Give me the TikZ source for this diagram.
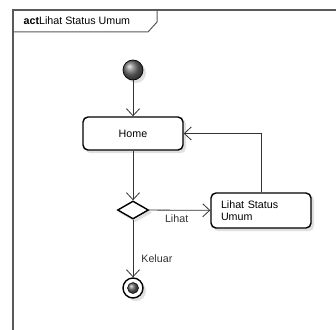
\documentclass[tikz,border=0pt]{standalone}
\usepackage{fontspec}
\setmainfont{Liberation Sans}
\usetikzlibrary{arrows.meta,shapes.geometric,calc}
\tikzset{
  frameline/.style={draw=black!65, line width=1.4pt},
  shadowed/.style={preaction={fill=black!12, draw=black!12, transform canvas={shift={(2.5pt,-2.5pt)}}}},
  actbox/.style={draw=black, line width=1.4pt, rounded corners=5pt, fill=white, shadowed,
    inner sep=0pt, font=\fontsize{10.7}{12}\selectfont},
  flow/.style={draw=black!80, line width=0.8pt, -{Straight Barb[length=7pt,width=13pt,line width=0.8pt]}},
  lbl/.style={font=\fontsize{10.7}{12}\selectfont, text=black!80, inner sep=0pt}
}
\begin{document}
\begin{tikzpicture}[x=1pt,y=-1pt]
\useasboundingbox (0,0) rectangle (336,329);
% diagram frame and its name tab
\draw[frameline] (13,340) -- (13,10) -- (345,10);
\draw[frameline, line width=1pt] (13,32) -- (148,32) -- (157,22) -- (157,10);
\node[anchor=west, inner sep=0pt, font=\fontsize{10.7}{12}\selectfont] (title) at (23.5,21)
  {\textbf{act}Lihat Status Umum};

% initial node
\fill[black!12] (136,73) circle (10);
\node[circle, minimum size=20pt, inner sep=0pt, draw=black, line width=0.7pt,
  ball color=black!55] (init) at (133,70) {};

% actions
\node[actbox, minimum width=100pt, minimum height=33pt] (home) at (133,133.5) {Home};
\node[actbox, minimum width=100pt, minimum height=35pt, align=left, text width=80pt]
  (lihat) at (261,210.5) {Lihat Status\\Umum};

% decision
\node[diamond, draw=black, line width=1.4pt, fill=white, shadowed, inner sep=0pt,
  minimum width=31pt, minimum height=18pt] (dec) at (133,210) {};

% final node
\fill[black!12] (136,291) circle (10);
\node[circle, minimum size=20pt, inner sep=0pt, draw=black, line width=1.4pt, fill=white]
  (final) at (133,288) {};
\shade[ball color=black!60] (133,288) circle (5.5);
\draw[black, line width=0.5pt] (133,288) circle (5.5);

% transitions
\draw[flow] (init) -- (home);
\draw[flow] (home) -- (dec);
\draw[flow] (dec) -- node[lbl, pos=0.45, below=4pt] {Lihat} (lihat);
\draw[flow] (lihat.north) |- (home.east);
\draw[flow] (dec) -- node[lbl, pos=0.67, anchor=west, xshift=8pt] {Keluar} (final);
\end{tikzpicture}
\end{document}
